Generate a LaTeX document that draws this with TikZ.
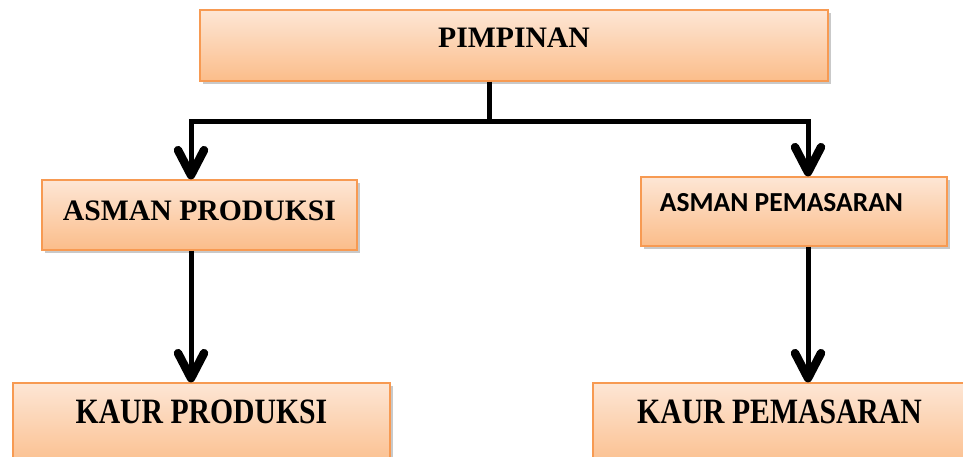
\documentclass[tikz,border=0pt]{standalone}
\usepackage{fontspec}
\usepackage{graphicx}
\setmainfont{Liberation Serif}
\newfontfamily\carlitofont{Carlito}
\usetikzlibrary{arrows.meta,shadows}
\definecolor{boxtop}{HTML}{FDE6D5}
\definecolor{boxbot}{HTML}{FBBD8A}
\definecolor{boxline}{HTML}{F79A52}
\tikzset{
  orgbox/.style={rectangle, draw=boxline, line width=1.2pt, top color=boxtop, bottom color=boxbot,
    drop shadow={shadow xshift=3pt, shadow yshift=-3pt, opacity=0.35, fill=black!60},
    inner sep=0pt},
  lbl/.style={font=\fontsize{29.7}{32}\selectfont\bfseries, text=black},
  lblsans/.style={font=\carlitofont\fontsize{27.5}{30}\selectfont\bfseries, text=black},
  conn/.style={line width=5pt, draw=black},
  arr/.style={conn, -{Straight Barb[length=25pt,width=26pt,line width=8.5pt,round]}}
}
\begin{document}
\begin{tikzpicture}[x=1pt,y=-1pt]
\fill[white] (0,0) rectangle (963,457);
\useasboundingbox (0,0) rectangle (963,457);

\node[orgbox, minimum width=628pt, minimum height=71pt,
  label={[lbl, yshift=7.5pt]center:PIMPINAN}] (pim) at (514,45.5) {};
\node[orgbox, minimum width=315pt, minimum height=70pt,
  label={[lbl, yshift=4pt]center:ASMAN PRODUKSI}] (ap) at (199.5,215) {};
\node[orgbox, minimum width=306pt, minimum height=69pt,
  label={[lblsans, xshift=-12.5pt, yshift=8.5pt]center:ASMAN PEMASARAN}] (apm) at (794,211.5) {};
\node[orgbox, minimum width=377pt, minimum height=87pt,
  label={[lbl, yshift=14.5pt]center:\scalebox{1}[1.2]{KAUR PRODUKSI}}] (kp) at (201.5,426.5) {};
\node[orgbox, minimum width=382pt, minimum height=87pt,
  label={[lbl, xshift=-4.5pt, yshift=14.5pt]center:\scalebox{1}[1.2]{KAUR PEMASARAN}}] (kpm) at (784,426.5) {};

\coordinate (j) at (489,122);
\coordinate (jl) at (191,122);
\coordinate (jr) at (808,122);

\draw[conn] (pim.south -| j) -- (j);
\draw[conn, line cap=rect] (jl) -- (jr);
\draw[arr] (jl) -- (jl |- ap.north);
\draw[arr] (jr) -- (jr |- apm.north);
\draw[arr] (ap.south -| jl) -- (kp.north -| jl);
\draw[arr] (apm.south -| jr) -- (kpm.north -| jr);
\end{tikzpicture}
\end{document}
